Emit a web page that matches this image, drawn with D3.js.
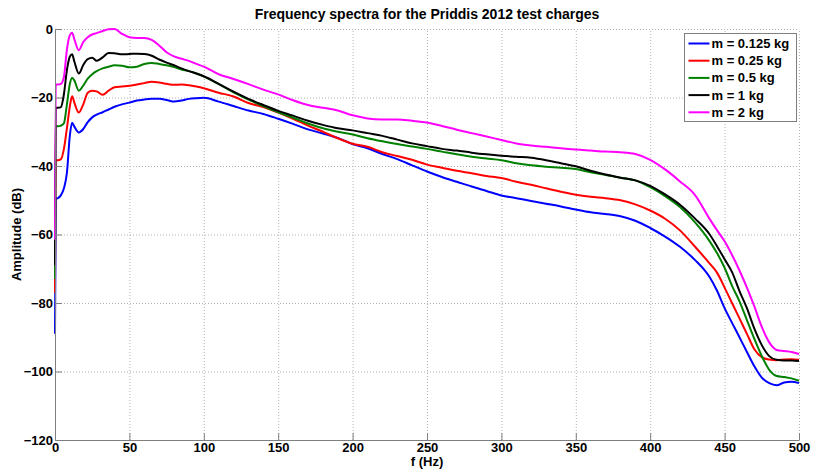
<!DOCTYPE html>
<html>
<head>
<meta charset="utf-8">
<script src="https://d3js.org/d3.v7.min.js"></script>
<style>
  body { margin: 0; background: #fff; }
  svg { font-family: "Liberation Sans", Arial, sans-serif; }
  .grid line { stroke: #b4b4b4; stroke-dasharray: 1,2; }
  .axis path, .axis line { stroke: #7f7f7f; }
  .axis text { font-size: 13px; font-weight: bold; fill: #000; }
  .label { font-size: 13px; font-weight: bold; fill: #000; }
  .title { font-size: 14px; font-weight: bold; fill: #000; }
</style>
</head>
<body>
<div id="chart"></div>
<script>
(function() {

// frequency samples (Hz), shared by every series
var freqs = [0, 0.5, 2, 4, 6, 8, 10, 11.5, 13, 16, 19, 22, 25, 28, 32, 36, 40, 45, 50, 55,
             60, 65, 70, 75, 80, 85, 90, 95, 100, 110, 120, 130, 140, 150, 160, 170, 180, 190,
             200, 210, 220, 230, 240, 250, 260, 270, 280, 290, 300, 310, 320, 330, 340, 350,
             360, 370, 380, 390, 400, 410, 420, 430, 440, 445, 450, 455, 460, 465, 470, 475,
             480, 485, 490, 495, 500];

var labels = ["m = 0.125 kg", "m = 0.25 kg", "m = 0.5 kg", "m = 1 kg", "m = 2 kg"];
var colors = ["#0000ff", "#ff0000", "#008000", "#000000", "#ff00ff"];

// amplitude (dB) for each charge
var amp0125 = [-89, -49.6, -49.4, -48.5, -46.5, -42, -31, -27.4, -28.5, -30.2, -29.2, -27.2, -25.8, -25, -24.3, -23.5, -22.7, -22, -21.5, -20.9,
               -20.6, -20.4, -20.4, -20.7, -21.2, -20.9, -20.4, -20.2, -20.1, -21.2, -22.5, -23.8, -24.8, -26.2, -27.7, -29.3, -30.5, -31.8,
               -33.6, -34.8, -36.5, -38, -39.8, -41.6, -43.2, -44.6, -46, -47.3, -48.6, -49.4, -50.2, -51, -51.8, -52.7,
               -53.5, -54, -54.7, -56, -58.1, -60.6, -63.6, -67.4, -72.5, -76.5, -81.5, -85.8, -90, -94.3, -98.5, -101.8,
               -103.4, -104, -103.2, -103, -103.4];
var amp025  = [-77, -38.3, -38.3, -38, -35, -29, -22.5, -19.6, -21.5, -24.4, -22, -18.6, -18, -18.2, -19.2, -18, -17, -16.8, -16.6, -16.2,
               -15.8, -15.4, -15.6, -16, -16.3, -16.2, -16.4, -16.8, -17.3, -18.6, -19.7, -21.6, -22.8, -24.4, -26.2, -28.2, -30, -31.9,
               -33.5, -34.4, -36, -37.1, -38.2, -39.6, -40.5, -41.4, -42.1, -42.9, -43.5, -44.6, -45.5, -46.5, -47.5, -48.4,
               -49, -49.4, -50, -51.2, -53, -55.4, -58.8, -63.5, -68.5, -71.2, -75.5, -80, -84.5, -89, -93.5, -95.8,
               -96.5, -96.7, -96.5, -96.4, -96.6];
var amp05   = [-73, -28.4, -28.4, -28.2, -27.5, -22, -16, -14.2, -15, -18, -16.5, -14.5, -13.2, -12.3, -11.5, -11, -10.6, -10.7, -11.2, -11,
               -10.2, -9.9, -10.2, -10.6, -11.1, -11.8, -12.3, -13, -13.9, -16.1, -18.5, -20.6, -22.5, -24.3, -25.9, -27.6, -29, -30,
               -30.8, -31.9, -32.8, -33.6, -34.3, -35, -35.8, -36.6, -37.3, -37.8, -38.3, -39.2, -39.8, -40.2, -40.5, -40.9,
               -41.8, -42.6, -43.4, -44.2, -46.2, -48.8, -52, -56.4, -62, -65.5, -69.7, -75, -79.5, -85, -90.5, -95.5,
               -99.5, -101.3, -101.6, -102, -102.7];
var amp1    = [-69, -23, -23, -22.8, -19, -12, -8, -7.4, -9.5, -13, -10.5, -8.8, -8.4, -9.3, -8.3, -7, -7.1, -7.4, -7.3, -7.2,
               -7.3, -7.8, -8.9, -9.8, -10.6, -11.5, -12.3, -13, -13.8, -16, -18.3, -20.4, -22.2, -23.9, -25.3, -26.8, -28, -29,
               -29.6, -30.4, -31.2, -32.3, -33.4, -34.2, -35, -35.5, -36.1, -36.6, -37, -37.3, -37.6, -38.3, -39.2, -40.1,
               -41.4, -42.5, -43.4, -44.2, -45.8, -48.3, -51.3, -55.3, -60, -63.5, -67.2, -71, -76.5, -81.5, -87.5, -92.3,
               -95.5, -96.6, -96.8, -96.8, -96.9];
var amp2    = [-61.5, -16.2, -16.2, -16, -14, -6, -1.8, -1.1, -3, -6.2, -3.8, -2.4, -1.6, -1.2, -0.6, -0.1, 0, -1.4, -2.4, -2.6,
               -2.6, -3.2, -4.8, -6.8, -8, -8.7, -9.3, -10.2, -11, -13.2, -14.6, -16.1, -17.7, -19.1, -20.8, -22.2, -23, -23.8,
               -25.2, -26.1, -26.4, -26.4, -26.8, -27.3, -28.3, -29.4, -30.4, -31.4, -32.4, -33.4, -34, -34.4, -34.8, -35.2,
               -35.5, -35.8, -36, -36.5, -38.2, -41, -44.5, -48.4, -55.5, -58.8, -62, -66, -70.5, -75.5, -81, -87,
               -91.5, -93.7, -94, -94.3, -94.9];

var xTicks = [0, 50, 100, 150, 200, 250, 300, 350, 400, 450, 500];
var yTicks = [-120, -100, -80, -60, -40, -20, 0];

var series = [amp0125, amp025, amp05, amp1, amp2];


/**
 * Set up the SVG and scales.
 */
var margin = {top: 29, bottom: 30, left: 55, right: 15};
var totalWidth = 814, totalHeight = 470;
var width  = 744,
    height = 411;

var svg = d3.select("#chart").append("svg")
                               .attr("width", totalWidth)
                               .attr("height", totalHeight)
                             .append("g")
                               .attr("transform", "translate(" + margin.left + "," + margin.top + ")");

var xScale = d3.scaleLinear()
               .domain([0, 500])
               .range([0, width]);
var yScale = d3.scaleLinear()
               .domain([-120, 0])
               .range([height, 0]);

// dotted grid (also stands in for the missing top/right box edges)
svg.append("g")
   .attr("class", "grid")
   .attr("transform", "translate(0," + height + ")")
   .call(d3.axisBottom(xScale).tickValues(xTicks).tickSize(-height).tickFormat(""))
   .call(function(g) { g.select(".domain").remove(); });
svg.append("g")
   .attr("class", "grid")
   .call(d3.axisLeft(yScale).tickValues(yTicks).tickSize(-width).tickFormat(""))
   .call(function(g) { g.select(".domain").remove(); });

/**
 * Draw the spectra, smallest charge first so 2 kg ends on top.
 */
var line = d3.line()
             .x(function(d) { return xScale(d[0]); })
             .y(function(d) { return yScale(d[1]); })
             .curve(d3.curveMonotoneX);

series.forEach(function(values, i) {
    var pts = freqs.map(function(f, j) { return [f, values[j]]; });
    svg.append("path")
       .datum(pts)
       .attr("fill", "none")
       .attr("stroke", colors[i])
       .attr("stroke-width", 2)
       .attr("stroke-linejoin", "round")
       .attr("d", line);
});

// axes: MATLAB style, ticks pointing inward
var xAxis = svg.append("g")
               .attr("class", "axis")
               .attr("transform", "translate(0," + height + ")")
               .call(d3.axisBottom(xScale).tickValues(xTicks).tickSizeInner(-7).tickSizeOuter(0).tickPadding(4));
xAxis.selectAll("text").attr("y", 3);
var yAxis = svg.append("g")
               .attr("class", "axis")
               .call(d3.axisLeft(yScale).tickValues(yTicks).tickSizeInner(-7).tickSizeOuter(0).tickPadding(2));
yAxis.selectAll("text").attr("x", -2);

/**
 * Title and axis labels.
 */
svg.append("text")
   .attr("class", "title")
   .attr("text-anchor", "middle")
   .attr("x", width / 2)
   .attr("y", -10)
   .text("Frequency spectra for the Priddis 2012 test charges");

svg.append("text")
   .attr("class", "label")
   .attr("text-anchor", "middle")
   .attr("x", width / 2)
   .attr("y", height + 26)
   .text("f (Hz)");

svg.append("text")
   .attr("class", "label")
   .attr("text-anchor", "middle")
   .attr("transform", "translate(" + (-34) + "," + (height / 2) + ") rotate(-90)")
   .text("Amplitude (dB)");

/**
 * Legend box, top right.
 */
var legend = svg.append("g")
                .attr("transform", "translate(" + (width - 114.5) + "," + 4.5 + ")");
legend.append("rect")
      .attr("width", 112)
      .attr("height", 88)
      .attr("fill", "#fff")
      .attr("stroke", "#7f7f7f");

labels.forEach(function(name, i) {
    var rowY = 10 + i * 17.2;
    legend.append("line")
          .attr("x1", 4)
          .attr("x2", 25)
          .attr("y1", rowY)
          .attr("y2", rowY)
          .attr("stroke", colors[i])
          .attr("stroke-width", 2);
    legend.append("text")
          .attr("class", "label")
          .attr("x", 27)
          .attr("y", rowY)
          .attr("dy", "0.35em")
          .text(name);
});
})();
</script>
</body>
</html>
